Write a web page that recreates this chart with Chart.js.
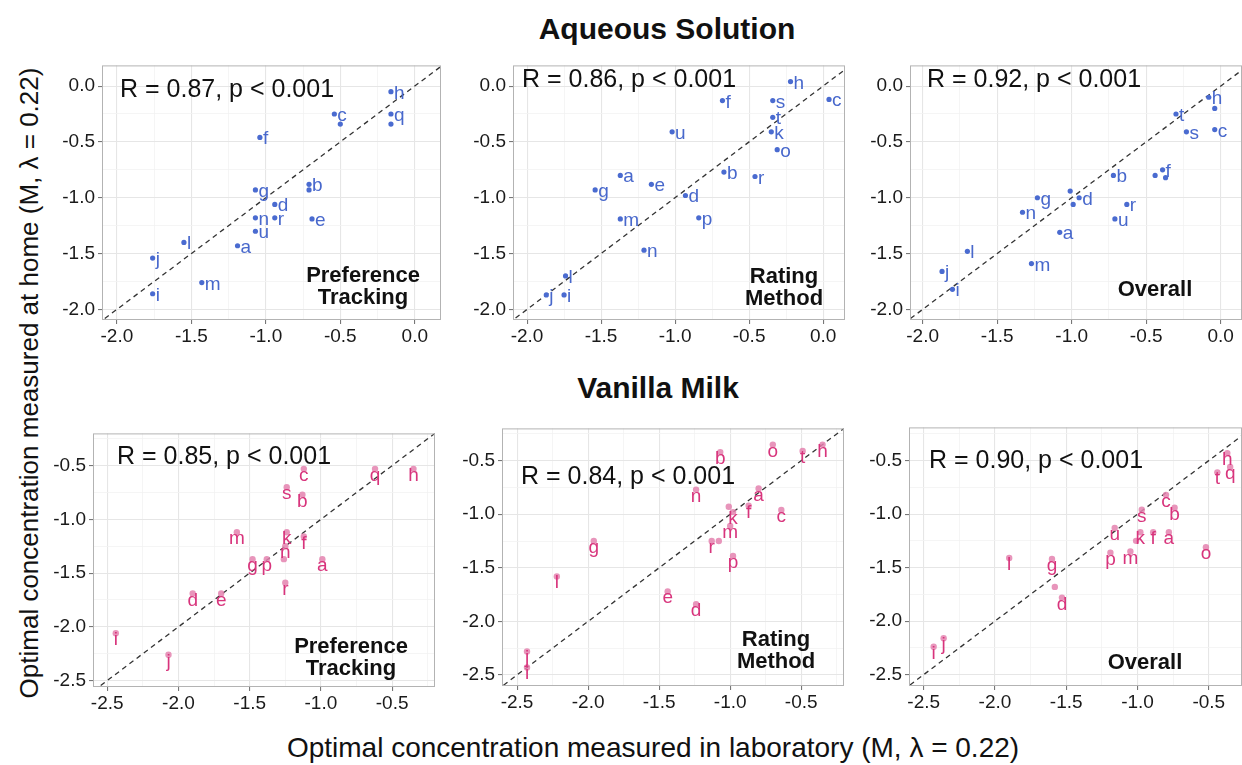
<!DOCTYPE html>
<html>
<head>
<meta charset="utf-8">
<title>Optimal concentration</title>
<style>
  body { margin: 0; background: #fff; width: 1242px; height: 765px; overflow: hidden; position: relative;
         font-family: "Liberation Sans", Arial, sans-serif; color: #111; }
  canvas { position: absolute; }
  .ttl { position: absolute; font-weight: bold; font-size: 30px; white-space: nowrap; transform: translate(-50%, -50%); }
  .axt { position: absolute; font-size: 28px; white-space: nowrap; transform: translate(-50%, -50%); }
</style>
</head>
<body>
<div class="ttl" style="left:667px;top:29px">Aqueous Solution</div>
<div class="ttl" style="left:658px;top:388px">Vanilla Milk</div>
<div class="axt" style="left:29px;top:383px;font-size:26px;transform:translate(-50%,-50%) rotate(-90deg)">Optimal concentration measured at home (M, λ = 0.22)</div>
<div class="axt" style="left:653px;top:748px">Optimal concentration measured in laboratory (M, λ = 0.22)</div>

<canvas id="p1"></canvas><canvas id="p2"></canvas><canvas id="p3"></canvas>
<canvas id="p4"></canvas><canvas id="p5"></canvas><canvas id="p6"></canvas>

<script src="https://cdn.jsdelivr.net/npm/chart.js@4"></script>
<script>
// ---- data ----
// Aqueous solution, preference tracking
const aqPtLab = ['h','q','','c','','f','b','','g','d','n','r','e','u','a','l','j','m','i'];
const aqPtX = [-0.16,-0.16,-0.16,-0.54,-0.50,-1.04,-0.71,-0.71,-1.07,-0.94,-1.07,-0.94,-0.69,-1.07,-1.19,-1.55,-1.76,-1.43,-1.76];
const aqPtY = [-0.05,-0.25,-0.34,-0.25,-0.34,-0.46,-0.88,-0.93,-0.93,-1.06,-1.18,-1.18,-1.19,-1.30,-1.43,-1.40,-1.54,-1.76,-1.86];
// Aqueous solution, rating method
const aqRmLab = ['h','c','f','s','t','k','u','o','b','r','a','e','g','d','m','p','n','l','j','i'];
const aqRmX = [-0.22,0.04,-0.68,-0.34,-0.34,-0.35,-1.02,-0.31,-0.67,-0.46,-1.37,-1.16,-1.54,-0.93,-1.37,-0.84,-1.21,-1.74,-1.87,-1.75];
const aqRmY = [0.04,-0.12,-0.13,-0.13,-0.28,-0.41,-0.41,-0.57,-0.77,-0.81,-0.80,-0.88,-0.93,-0.98,-1.19,-1.18,-1.47,-1.70,-1.87,-1.87];
// Aqueous solution, overall
const aqAllLab = ['h','','t','s','c','f','','','b','','g','d','','r','n','u','a','l','m','j','i'];
const aqAllX = [-0.08,-0.04,-0.30,-0.23,-0.04,-0.39,-0.44,-0.37,-0.72,-1.01,-1.23,-0.95,-0.99,-0.63,-1.33,-0.71,-1.08,-1.70,-1.27,-1.87,-1.80];
const aqAllY = [-0.10,-0.20,-0.25,-0.41,-0.39,-0.75,-0.80,-0.82,-0.80,-0.94,-1.00,-1.00,-1.06,-1.06,-1.13,-1.19,-1.31,-1.48,-1.59,-1.66,-1.82];
// Vanilla milk, preference tracking
const vmPtLab = ['c','q','h','s','b','m','k','f','n','','g','p','a','r','d','e','i','j'];
const vmPtX = [-1.12,-0.62,-0.35,-1.24,-1.13,-1.59,-1.24,-1.12,-1.25,-1.26,-1.48,-1.38,-0.99,-1.25,-1.90,-1.70,-2.44,-2.07];
const vmPtY = [-0.53,-0.53,-0.53,-0.70,-0.77,-1.12,-1.12,-1.16,-1.25,-1.37,-1.37,-1.37,-1.37,-1.59,-1.69,-1.69,-2.06,-2.26];
// Vanilla milk, rating method
const vmRmLab = ['o','h','t','b','n','a','','k','f','c','m','r','','g','p','l','e','d','j','i'];
const vmRmX = [-0.70,-0.35,-0.49,-1.07,-1.24,-0.80,-1.01,-0.98,-0.87,-0.64,-1.00,-1.13,-1.08,-1.96,-0.98,-2.22,-1.44,-1.24,-2.43,-2.43];
const vmRmY = [-0.35,-0.35,-0.41,-0.42,-0.77,-0.76,-0.93,-0.98,-0.92,-0.96,-1.11,-1.25,-1.25,-1.25,-1.39,-1.58,-1.72,-1.84,-2.28,-2.43];
// Vanilla milk, overall
const vmAllLab = ['h','q','t','c','b','s','u','k','','f','a','m','p','o','l','g','','d','j','i'];
const vmAllX = [-0.37,-0.35,-0.44,-0.80,-0.74,-0.97,-1.16,-0.98,-1.01,-0.89,-0.78,-1.05,-1.19,-0.52,-1.90,-1.60,-1.58,-1.53,-2.36,-2.43];
const vmAllY = [-0.43,-0.56,-0.61,-0.82,-0.94,-0.96,-1.13,-1.17,-1.25,-1.17,-1.17,-1.35,-1.36,-1.31,-1.41,-1.42,-1.68,-1.78,-2.16,-2.24];

const rTexts = ['R = 0.87, p < 0.001', 'R = 0.86, p < 0.001', 'R = 0.92, p < 0.001',
                'R = 0.85, p < 0.001', 'R = 0.84, p < 0.001', 'R = 0.90, p < 0.001'];
const methodNames = [['Preference', 'Tracking'], ['Rating', 'Method'], ['Overall']];
const tickStep = 0.25; // minor grid; labels every 0.5

const FONT = '"Liberation Sans", Arial, sans-serif';
const BLUE_DOT = '#4a6bd0', BLUE_TXT = '#4868cc';
const PINK_DOT = 'rgba(228,130,175,0.85)', PINK_TXT = '#d8347c';

// panel boxes: l, t, r, b in page pixels, axis limits, annotation offsets
const panels = [
  { id:'p1', lab:aqPtLab,  xs:aqPtX,  ys:aqPtY,  box:[102,57,441,320], x:[-2.10,0.176], y:[-2.095,0.185], r:rTexts[0], m:methodNames[0], rp:[18,25], mp:[78,44], top:true },
  { id:'p2', lab:aqRmLab,  xs:aqRmX,  ys:aqRmY,  box:[513,57,845,320], x:[-2.095,0.148], y:[-2.095,0.185], r:rTexts[1], m:methodNames[1], rp:[9,15],  mp:[61,43], top:true },
  { id:'p3', lab:aqAllLab, xs:aqAllX, ys:aqAllY, box:[910,57,1242,320], x:[-2.085,0.143], y:[-2.095,0.185], r:rTexts[2], m:methodNames[2], rp:[17,15], mp:[87,30], top:true },
  { id:'p4', lab:vmPtLab,  xs:vmPtX,  ys:vmPtY,  box:[93,425,435,687], x:[-2.60,-0.199], y:[-2.56,-0.20], r:rTexts[3], m:methodNames[0], rp:[24,24], mp:[84,40], top:false },
  { id:'p5', lab:vmRmLab,  xs:vmRmX,  ys:vmRmY,  box:[502,420,844,686], x:[-2.606,-0.199], y:[-2.603,-0.199], r:rTexts[4], m:methodNames[1], rp:[19,49], mp:[68,46], top:false },
  { id:'p6', lab:vmAllLab, xs:vmAllX, ys:vmAllY, box:[909,419,1242,686], x:[-2.603,-0.267], y:[-2.606,-0.19], r:rTexts[5], m:methodNames[2], rp:[20,34], mp:[97,23], top:false }
];

const isMajor = v => Math.abs(v * 2 - Math.round(v * 2)) < 1e-6;

const annot = {
  id: 'annot',
  afterDatasetsDraw(chart) {
    const o = chart.options.plugins.annot;
    const ctx = chart.ctx, a = chart.chartArea;
    const meta = chart.getDatasetMeta(0);
    ctx.save();
    ctx.font = '19px ' + FONT;
    ctx.fillStyle = o.top ? BLUE_TXT : PINK_TXT;
    ctx.textBaseline = 'alphabetic';
    ctx.textAlign = o.top ? 'left' : 'center';
    meta.data.forEach((el, i) => {
      const t = o.lab[i];
      if (!t) return;
      if (o.top) ctx.fillText(t, el.x + 3, el.y + 7);
      else ctx.fillText(t, el.x, el.y + 12);
    });
    ctx.fillStyle = '#111';
    ctx.textBaseline = 'middle';
    ctx.textAlign = 'left';
    ctx.font = '25px ' + FONT;
    ctx.fillText(o.r, a.left + o.rp[0], a.top + o.rp[1]);
    ctx.textAlign = 'center';
    ctx.font = 'bold 22px ' + FONT;
    o.m.forEach((line, k) => ctx.fillText(line, a.right - o.mp[0], a.bottom - o.mp[1] + k * 22));
    ctx.strokeStyle = '#b3b3b3';
    ctx.lineWidth = 1;
    ctx.strokeRect(a.left + 0.5, a.top + 0.5, a.right - a.left - 1, a.bottom - a.top - 1);
    ctx.restore();
  }
};

function axis(lim, isY) {
  return {
    type: 'linear', min: lim[0], max: lim[1],
    afterBuildTicks(s) {
      const t = [];
      for (let v = Math.ceil(lim[0] / tickStep) * tickStep; v <= lim[1] + 1e-9; v += tickStep) t.push({ value: Math.round(v * 100) / 100 });
      s.ticks = t;
    },
    afterFit(s) { if (isY) s.width = 50; else s.height = 30; },
    border: { display: false },
    grid: {
      color: c => isMajor(c.tick.value) ? '#e6e6e6' : '#f3f3f3',
      lineWidth: c => isMajor(c.tick.value) ? 1.1 : 0.8,
      tickColor: c => isMajor(c.tick.value) ? '#777' : 'rgba(0,0,0,0)',
      tickLength: 4
    },
    ticks: {
      autoSkip: false, maxRotation: 0, padding: isY ? 3 : 1,
      color: '#1a1a1a', font: { size: 19, family: FONT },
      callback: v => isMajor(v) ? (Math.abs(v) < 1e-9 ? 0 : v).toFixed(1) : ''
    }
  };
}

panels.forEach(p => {
  const [l, t, r, b] = p.box;
  const cv = document.getElementById(p.id);
  const padT = 6, padR = 6, yW = 50, xH = 30;
  cv.width = r - l + yW + padR;
  cv.height = b - t + padT + xH;
  cv.style.left = (l - yW) + 'px';
  cv.style.top = (t - padT) + 'px';
  new Chart(cv, {
    type: 'scatter',
    data: {
      datasets: [
        { data: p.xs.map((x, i) => ({ x: x, y: p.ys[i] })),
          pointRadius: p.top ? 2.6 : 3.2, pointBackgroundColor: p.top ? BLUE_DOT : PINK_DOT, pointBorderWidth: 0 },
        { data: [{ x: -3, y: -3 }, { x: 1, y: 1 }], showLine: true, pointRadius: 0,
          borderColor: '#333', borderWidth: 1.3, borderDash: [5, 4] }
      ]
    },
    options: {
      responsive: false, animation: false, devicePixelRatio: 1,
      layout: { padding: { top: padT, right: padR, left: 0, bottom: 0 } },
      plugins: {
        legend: { display: false }, tooltip: { enabled: false },
        annot: { lab: p.lab, r: p.r, m: p.m, rp: p.rp, mp: p.mp, top: p.top }
      },
      scales: { x: axis(p.x, false), y: axis(p.y, true) }
    },
    plugins: [annot]
  });
});
</script>
</body>
</html>
